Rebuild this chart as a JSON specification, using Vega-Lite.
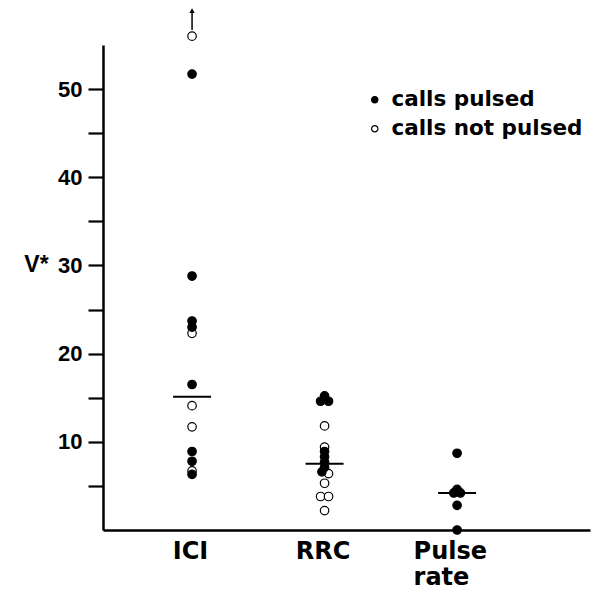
{
  "$schema": "https://vega.github.io/schema/vega-lite/v6.json",
  "width": 487,
  "height": 485,
  "autosize": {"type": "none"},
  "padding": {"left": 103, "top": 45, "right": 13, "bottom": 77},
  "background": "white",
  "config": {"view": {"stroke": null}, "font": "Liberation Sans"},
  "datasets": {
    "points": [
      {"x": 1, "v": 56.0, "type": "calls not pulsed"},
      {"x": 1, "v": 22.3, "type": "calls not pulsed"},
      {"x": 1, "v": 14.1, "type": "calls not pulsed"},
      {"x": 1, "v": 11.7, "type": "calls not pulsed"},
      {"x": 1, "v": 6.7, "type": "calls not pulsed"},
      {"x": 2, "v": 11.8, "type": "calls not pulsed"},
      {"x": 2, "v": 9.4, "type": "calls not pulsed"},
      {"x": 2.03, "v": 6.4, "type": "calls not pulsed"},
      {"x": 2, "v": 5.3, "type": "calls not pulsed"},
      {"x": 1.97, "v": 3.8, "type": "calls not pulsed"},
      {"x": 2.03, "v": 3.8, "type": "calls not pulsed"},
      {"x": 2, "v": 2.2, "type": "calls not pulsed"},
      {"x": 1, "v": 51.7, "type": "calls pulsed"},
      {"x": 1, "v": 28.8, "type": "calls pulsed"},
      {"x": 1, "v": 23.7, "type": "calls pulsed"},
      {"x": 1, "v": 23.0, "type": "calls pulsed"},
      {"x": 1, "v": 16.5, "type": "calls pulsed"},
      {"x": 1, "v": 8.9, "type": "calls pulsed"},
      {"x": 1, "v": 7.8, "type": "calls pulsed"},
      {"x": 1, "v": 6.3, "type": "calls pulsed"},
      {"x": 2, "v": 15.2, "type": "calls pulsed"},
      {"x": 1.97, "v": 14.6, "type": "calls pulsed"},
      {"x": 2.03, "v": 14.6, "type": "calls pulsed"},
      {"x": 2, "v": 8.9, "type": "calls pulsed"},
      {"x": 2, "v": 8.3, "type": "calls pulsed"},
      {"x": 2, "v": 7.7, "type": "calls pulsed"},
      {"x": 2, "v": 7.1, "type": "calls pulsed"},
      {"x": 1.98, "v": 6.6, "type": "calls pulsed"},
      {"x": 3, "v": 8.7, "type": "calls pulsed"},
      {"x": 3, "v": 4.6, "type": "calls pulsed"},
      {"x": 2.975, "v": 4.2, "type": "calls pulsed"},
      {"x": 3.025, "v": 4.2, "type": "calls pulsed"},
      {"x": 3, "v": 2.8, "type": "calls pulsed"},
      {"x": 3, "v": 0.0, "type": "calls pulsed"}
    ],
    "medians": [
      {"x": 1, "v": 15.1},
      {"x": 2, "v": 7.5},
      {"x": 3, "v": 4.2}
    ],
    "arrow": [
      {"x": 1, "v": 56.7, "v2": 58.9}
    ]
  },
  "layer": [
    {
      "data": {"name": "points"},
      "mark": {"type": "point", "shape": "circle", "filled": true, "size": 72, "stroke": "black", "strokeWidth": 1.2, "opacity": 1},
      "encoding": {
        "x": {
          "field": "x", "type": "quantitative",
          "scale": {"domain": [0.328, 4.003], "nice": false, "zero": false},
          "axis": {
            "title": null,
            "values": [1, 2, 3],
            "labelExpr": "datum.value == 1 ? 'ICI' : datum.value == 2 ? 'RRC' : ['Pulse', 'rate']",
            "ticks": false,
            "grid": false,
            "domainWidth": 2.5,
            "domainColor": "black",
            "labelFont": "DejaVu Sans",
            "labelFontSize": 24,
            "labelFontWeight": "bold",
            "labelColor": "black",
            "labelPadding": 9,
            "labelLineHeight": 26,
            "labelOverlap": false,
            "labelFlush": false,
            "labelAlign": {"condition": {"test": "datum.value == 3", "value": "left"}, "value": "center"},
            "labelOffset": {"condition": {"test": "datum.value == 3", "value": -44}, "value": -2}
          }
        },
        "y": {
          "field": "v", "type": "quantitative",
          "scale": {"domain": [0, 55], "nice": false},
          "axis": {
            "title": "V*",
            "values": [5, 10, 15, 20, 25, 30, 35, 40, 45, 50],
            "labelExpr": "datum.value % 10 == 0 ? datum.label : ''",
            "grid": false,
            "tickSize": 15,
            "tickWidth": 2.2,
            "tickColor": "black",
            "domainWidth": 2.5,
            "domainColor": "black",
            "labelFontSize": 22,
            "labelFontWeight": "bold",
            "labelColor": "black",
            "labelPadding": 6,
            "titleAngle": 0,
            "titleFontSize": 23,
            "titleFontWeight": "bold",
            "titleColor": "black",
            "titleX": -67,
            "titleY": 219,
            "titleAlign": "center",
            "titleBaseline": "middle"
          }
        },
        "fill": {
          "field": "type", "type": "nominal",
          "scale": {"domain": ["calls pulsed", "calls not pulsed"], "range": ["black", "white"]},
          "legend": {
            "title": null,
            "orient": "none",
            "legendX": 261,
            "legendY": 44,
            "labelFont": "DejaVu Sans",
            "labelFontSize": 21.5,
            "labelFontWeight": "bold",
            "labelColor": "black",
            "labelLimit": 400,
            "symbolSize": 40,
            "symbolType": "circle",
            "symbolStrokeColor": "black",
            "symbolStrokeWidth": 1.2,
            "rowPadding": 6,
            "labelOffset": 6
          }
        }
      }
    },
    {
      "data": {"name": "medians"},
      "mark": {"type": "tick", "orient": "horizontal", "size": 38, "thickness": 2, "color": "black", "opacity": 1},
      "encoding": {
        "x": {"field": "x", "type": "quantitative"},
        "y": {"field": "v", "type": "quantitative"}
      }
    },
    {
      "data": {"name": "arrow"},
      "mark": {"type": "rule", "color": "black", "strokeWidth": 1.5},
      "encoding": {
        "x": {"field": "x", "type": "quantitative"},
        "y": {"field": "v", "type": "quantitative"},
        "y2": {"field": "v2"}
      }
    },
    {
      "data": {"name": "arrow"},
      "mark": {"type": "point", "shape": "triangle-up", "filled": true, "size": 28, "color": "black", "opacity": 1},
      "encoding": {
        "x": {"field": "x", "type": "quantitative"},
        "y": {"field": "v2", "type": "quantitative"}
      }
    }
  ]
}
